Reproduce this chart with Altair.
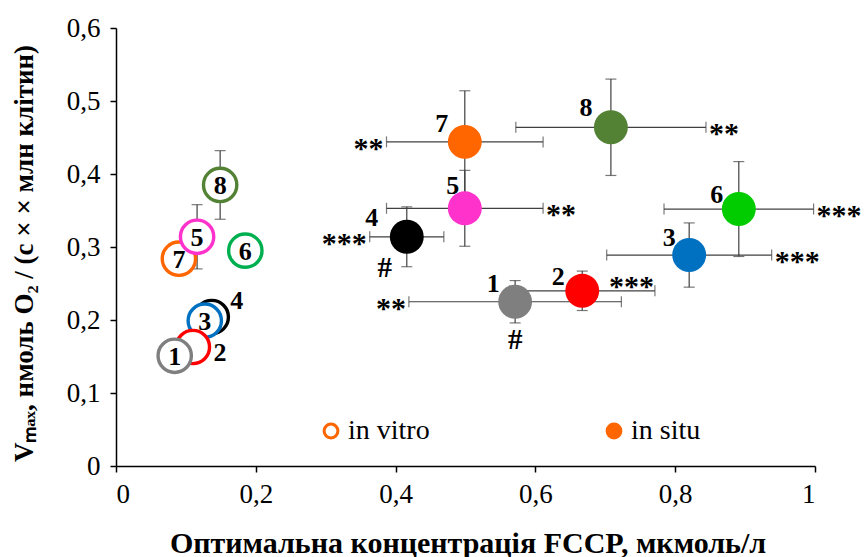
import altair as alt
import pandas as pd

# ---- data -------------------------------------------------------------
ids = ["1", "2", "3", "4", "5", "6", "7", "8"]

colors_vitro = ["#7F7F7F", "#FF0000", "#0070C0", "#000000",
                "#FF33CC", "#00B050", "#FF6600", "#548235"]
colors_situ = ["#7F7F7F", "#FF0000", "#0070C0", "#000000",
               "#FF33CC", "#00CC00", "#FF6600", "#548235"]

# in vitro: optimal FCCP concentration and Vmax
vitro_x = [0.084, 0.110, 0.127, 0.137, 0.116, 0.185, 0.090, 0.149]
vitro_y = [0.151, 0.163, 0.199, 0.204, 0.314, 0.295, 0.284, 0.385]
vitro_yerr = [0.0, 0.0, 0.0, 0.0, 0.044, 0.0, 0.0, 0.047]

# in situ
situ_x = [0.571, 0.667, 0.820, 0.416, 0.499, 0.891, 0.499, 0.708]
situ_y = [0.225, 0.240, 0.289, 0.314, 0.353, 0.352, 0.444, 0.464]
situ_xerr = [0.152, 0.104, 0.118, 0.053, 0.112, 0.107, 0.112, 0.136]
situ_yerr = [0.029, 0.027, 0.044, 0.041, 0.052, 0.065, 0.070, 0.066]
situ_stars = ["**", "***", "***", "***", "**", "***", "**", "**"]
# where the significance stars go: beside the left cap, beside the right cap,
# or above the bar ending at the right cap
star_side = ["left", "above", "right", "left", "right", "right", "left", "right"]
situ_hash = ["#", "", "", "#", "", "", "", ""]

legend_items = ["in vitro", "in situ"]

# ---- layout constants -------------------------------------------------
W, H = 699, 438
X_MAX, Y_MAX = 1.0, 0.6
PX_X = W / X_MAX      # pixels per x unit
PX_Y = H / Y_MAX      # pixels per y unit
FONT = "Liberation Serif"
BAR = "#404040"

# pixel nudges for the numeric labels next to in situ points
label_nudge = {"1": (-22, -19), "2": (-24, -15), "3": (-20, -18), "4": (-35, -20),
               "5": (-12, -23), "6": (-22, -15), "7": (-23, -19), "8": (-25, -20)}
# in vitro labels that sit outside their circle
vitro_label_nudge = {"2": (27, 5), "4": (25, -17)}
# pixel nudges for the "#" marks below points
hash_nudge = {"1": (0, 38), "4": (-22, 31)}

vitro = pd.DataFrame({"id": ids, "x": vitro_x, "y": vitro_y,
                      "yerr": vitro_yerr, "col": colors_vitro})
vitro["ylo"] = vitro.y - vitro.yerr
vitro["yhi"] = vitro.y + vitro.yerr
vitro["lx"] = [x + vitro_label_nudge.get(i, (0, 0))[0] / PX_X for i, x in zip(ids, vitro_x)]
vitro["ly"] = [y - vitro_label_nudge.get(i, (0, 0))[1] / PX_Y for i, y in zip(ids, vitro_y)]
vitro = vitro.iloc[::-1]  # later ids drawn underneath

situ = pd.DataFrame({"id": ids, "x": situ_x, "y": situ_y, "xerr": situ_xerr,
                     "yerr": situ_yerr, "col": colors_situ, "stars": situ_stars,
                     "side": star_side, "hash": situ_hash})
situ["xlo"] = situ.x - situ.xerr
situ["xhi"] = situ.x + situ.xerr
situ["ylo"] = situ.y - situ.yerr
situ["yhi"] = situ.y + situ.yerr
situ["lx"] = [x + label_nudge[i][0] / PX_X for i, x in zip(ids, situ_x)]
situ["ly"] = [y - label_nudge[i][1] / PX_Y for i, y in zip(ids, situ_y)]
situ["sy"] = [y + (11 / PX_Y if s == "above" else 0.0) for s, y in zip(star_side, situ_y)]
situ = situ.iloc[::-1]

xs = alt.Scale(domain=[0, X_MAX], nice=False, zero=True)
ys = alt.Scale(domain=[0, Y_MAX], nice=False, zero=True)

x_axis = alt.Axis(values=[0, 0.2, 0.4, 0.6, 0.8, 1.0],
                  labelExpr="replace(format(datum.value, '.1~f'), '.', ',')",
                  title="Оптимальна концентрація FCCP, мкмоль/л",
                  titleX=W / 2 + 2, titleY=77, titleBaseline="middle",
                  titleAlign="center", titleFontSize=30)
y_axis = alt.Axis(values=[0, 0.1, 0.2, 0.3, 0.4, 0.5, 0.6],
                  labelExpr="replace(format(datum.value, '.1~f'), '.', ',')",
                  title="Vₘₐₓ, нмоль O₂ / (с × × млн клітин)",
                  titleX=-92, titleY=H / 2 + 6, titleAngle=270,
                  titleBaseline="middle", titleAlign="center", titleFontSize=27)


def X(f):
    return alt.X(f, type="quantitative", scale=xs, axis=x_axis)


def Y(f):
    return alt.Y(f, type="quantitative", scale=ys, axis=y_axis)


# ---- in vitro error bars ----
vb = vitro[vitro.yerr > 0]
cap = dict(color=BAR, size=11, thickness=1.2)
vitro_vbar = alt.Chart(vb).mark_rule(color=BAR, strokeWidth=1.2).encode(
    x=X("x"), y=Y("ylo"), y2="yhi")
vitro_caps = alt.layer(
    alt.Chart(vb).mark_tick(orient="horizontal", **cap).encode(x=X("x"), y=Y("ylo")),
    alt.Chart(vb).mark_tick(orient="horizontal", **cap).encode(x=X("x"), y=Y("yhi")),
)

# ---- in situ error bars ----
situ_vbar = alt.Chart(situ).mark_rule(color=BAR, strokeWidth=1.2).encode(
    x=X("x"), y=Y("ylo"), y2="yhi")
situ_hbar = alt.Chart(situ).mark_rule(color=BAR, strokeWidth=1.2).encode(
    x=X("xlo"), x2="xhi", y=Y("y"))
situ_caps = alt.layer(
    alt.Chart(situ).mark_tick(orient="horizontal", **cap).encode(x=X("x"), y=Y("ylo")),
    alt.Chart(situ).mark_tick(orient="horizontal", **cap).encode(x=X("x"), y=Y("yhi")),
    alt.Chart(situ).mark_tick(orient="vertical", **cap).encode(x=X("xlo"), y=Y("y")),
    alt.Chart(situ).mark_tick(orient="vertical", **cap).encode(x=X("xhi"), y=Y("y")),
)

# ---- points ----
situ_pts = alt.Chart(situ).mark_circle(size=1150, opacity=1).encode(
    x=X("x"), y=Y("y"), color=alt.Color("col:N", scale=None, legend=None))
vitro_pts = alt.Chart(vitro).mark_point(
    shape="circle", size=1110, filled=False, fill="white", fillOpacity=1,
    strokeWidth=3.4, opacity=1).encode(
    x=X("x"), y=Y("y"), stroke=alt.Stroke("col:N", scale=None, legend=None))

# ---- labels ----
txt = dict(font=FONT, fontWeight="bold", fontSize=26, color="black")
vitro_lbl = alt.Chart(vitro).mark_text(baseline="middle", align="center", dy=1, **txt).encode(
    x=X("lx"), y=Y("ly"), text="id:N")
situ_lbl = alt.Chart(situ).mark_text(baseline="middle", align="center", dy=1, **txt).encode(
    x=X("lx"), y=Y("ly"), text="id:N")

star_txt = dict(font=FONT, fontWeight="bold", fontSize=30, color="black",
                baseline="middle", dy=7)
stars_right = alt.Chart(situ[situ.side == "right"]).mark_text(
    align="left", dx=3, **star_txt).encode(x=X("xhi"), y=Y("sy"), text="stars:N")
stars_above = alt.Chart(situ[situ.side == "above"]).mark_text(
    align="right", dx=-1, **star_txt).encode(x=X("xhi"), y=Y("sy"), text="stars:N")
stars_left = alt.Chart(situ[situ.side == "left"]).mark_text(
    align="right", dx=-3, **star_txt).encode(x=X("xlo"), y=Y("sy"), text="stars:N")

hashes = situ[situ.hash != ""].copy()
hashes["hx"] = [x + hash_nudge[i][0] / PX_X for i, x in zip(hashes.id, hashes.x)]
hashes["hy"] = [y - hash_nudge[i][1] / PX_Y for i, y in zip(hashes.id, hashes.y)]
hash_lbl = alt.Chart(hashes).mark_text(
    font=FONT, fontWeight="bold", fontSize=29, color="black", baseline="middle").encode(
    x=X("hx"), y=Y("hy"), text="hash:N")

# ---- legend ----
legend_df = pd.DataFrame({"kind": legend_items})
legend_layer = alt.Chart(legend_df).mark_point(opacity=0, filled=True).encode(
    x=alt.value(0), y=alt.value(0),
    fill=alt.Fill("kind:N", scale=alt.Scale(domain=legend_items, range=["white", "#FF6600"]),
                  legend=alt.Legend(orient="none", legendX=201, legendY=389,
                                    direction="horizontal", title=None,
                                    symbolType="circle", symbolSize=190,
                                    symbolStrokeColor="#FF6600", symbolStrokeWidth=3,
                                    symbolOpacity=1,
                                    labelFont=FONT, labelFontSize=28, labelColor="black",
                                    labelOffset=3, columnPadding=170, labelLimit=200)),
)

chart = alt.layer(
    vitro_vbar, vitro_caps, situ_vbar, situ_hbar, situ_caps,
    situ_pts, vitro_pts, vitro_lbl, situ_lbl, stars_right, stars_above, stars_left,
    hash_lbl, legend_layer,
).properties(
    width=W, height=H,
    autosize=alt.AutoSizeParams(type="none"),
    padding={"left": 116, "top": 28, "right": 49, "bottom": 91},
).configure_view(stroke=None).configure_axis(
    grid=False, domainColor="black", domainWidth=1.5, tickColor="black",
    tickWidth=1.5, tickSize=6, labelFont=FONT, labelFontSize=27, labelColor="black",
    labelPadding=9, titleFont=FONT, titleFontWeight="bold", titleColor="black",
).configure_axisY(labelPadding=10)

chart.save("out.html", embed_options={"renderer": "svg", "actions": False})
